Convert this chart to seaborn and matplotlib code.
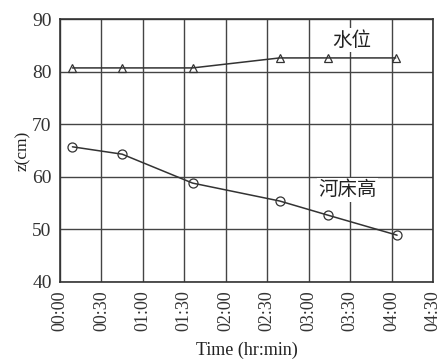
import matplotlib
matplotlib.use("Agg")
import matplotlib.pyplot as plt
import seaborn as sns
import pandas as pd

# Data (time in minutes from 00:00)
water_time = [9, 45, 96, 159, 194, 243]
water_level = [80.7, 80.7, 80.7, 82.6, 82.6, 82.6]
bed_time = [9, 45, 96, 159, 194, 244]
bed_level = [65.7, 64.3, 58.8, 55.4, 52.7, 48.9]
tick_minutes = [0, 30, 60, 90, 120, 150, 180, 210, 240, 270]
tick_labels = ["00:00", "00:30", "01:00", "01:30", "02:00", "02:30",
               "03:00", "03:30", "04:00", "04:30"]
y_ticks = [40, 50, 60, 70, 80, 90]

sns.set_theme(style="white")
plt.rcParams['font.family'] = ['Liberation Serif', 'Noto Sans CJK SC']

df_w = pd.DataFrame({"t": water_time, "z": water_level})
df_b = pd.DataFrame({"t": bed_time, "z": bed_level})

fig = plt.figure(figsize=(4.42, 3.6), dpi=100)
ax = fig.add_axes([60/442, 1-282/360, (433-60)/442, (282-19)/360])

col = "#333333"
sns.lineplot(data=df_w, x="t", y="z", ax=ax, color=col, lw=1.1,
             marker="^", markersize=6, markerfacecolor="none",
             markeredgecolor=col, markeredgewidth=0.9)
sns.lineplot(data=df_b, x="t", y="z", ax=ax, color=col, lw=1.1,
             marker="o", markersize=6.5, markerfacecolor="none",
             markeredgecolor=col, markeredgewidth=0.9)

ax.set_xlim(0, 270)
ax.set_ylim(40, 90)
ax.set_xticks(tick_minutes)
ax.set_xticklabels(tick_labels, rotation=90, fontsize=13, color="#333333")
ax.set_yticks(y_ticks)
ax.set_yticklabels([str(v) for v in y_ticks], fontsize=14, color="#333333")
ax.grid(True, color="#444444", lw=1.0)
for s in ax.spines.values():
    s.set_color("#333333")
    s.set_linewidth(1.2)
ax.tick_params(axis="both", direction="out", length=4, width=1, color="#333333", pad=2)
ax.set_xlabel("Time (hr:min)", fontsize=13, color="#222222", va="center")
ax.xaxis.set_label_coords(0.5, -0.258)
ax.set_ylabel("z(cm)", fontsize=12.5, color="#222222", labelpad=1)

box = dict(facecolor="white", edgecolor="none", pad=1.0)
ax.text(211, 86.0, "水位", fontsize=14, family=['Noto Sans CJK SC'], color="#222222",
        ha="center", va="center", bbox=box)
ax.text(208, 57.5, "河床高", fontsize=14, family=['Noto Sans CJK SC'], color="#222222",
        ha="center", va="center", bbox=box)

fig.savefig("out.png", dpi=100)
